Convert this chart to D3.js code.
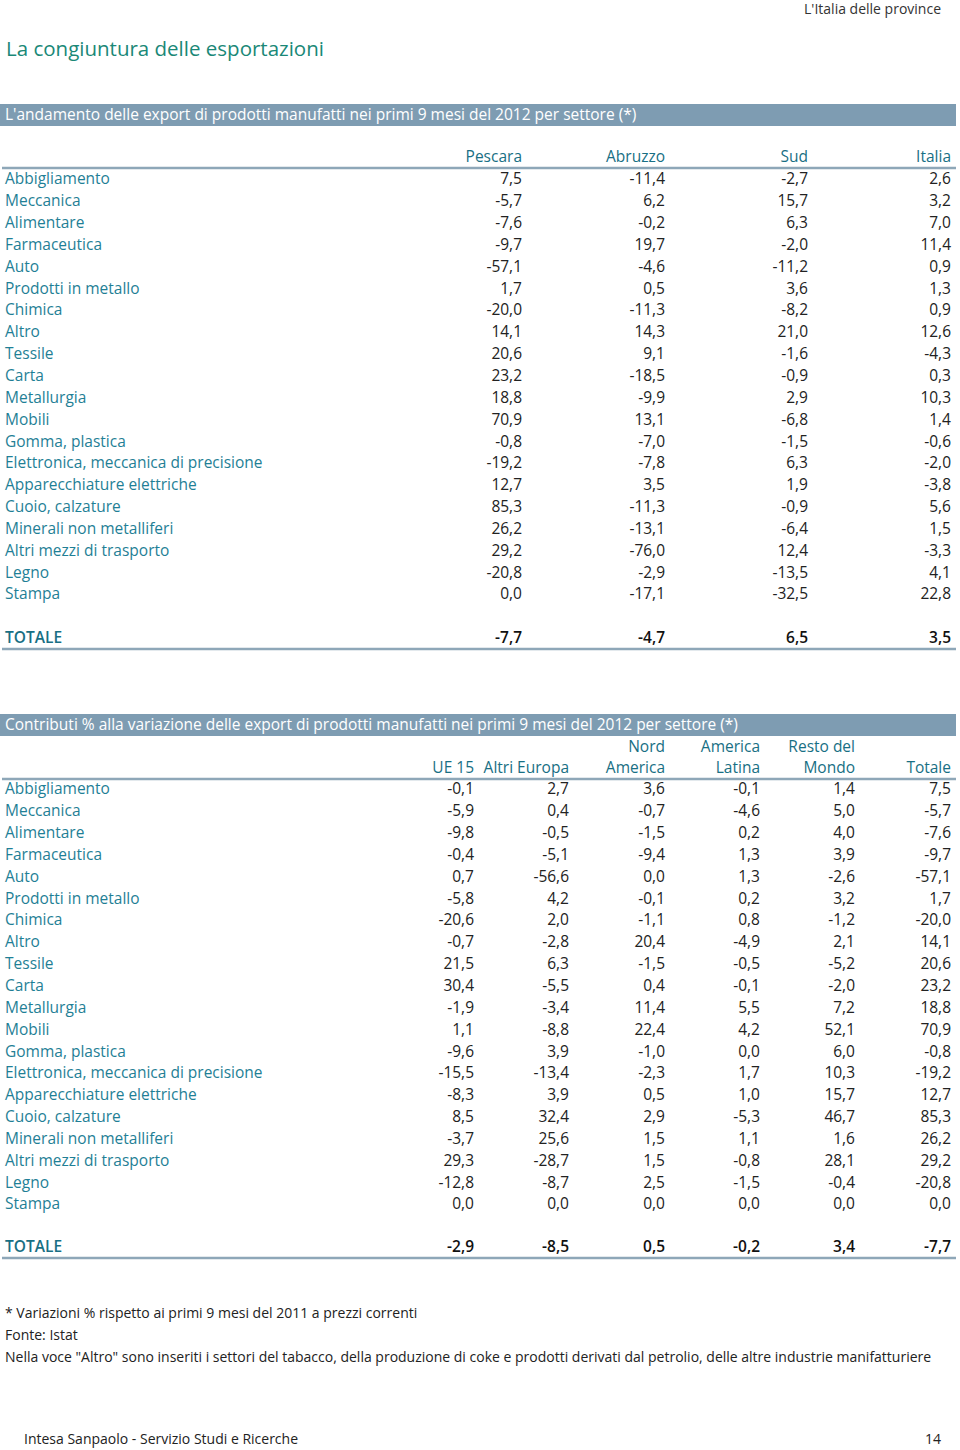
<!DOCTYPE html>
<html><head><meta charset="utf-8">
<script src="https://cdn.jsdelivr.net/npm/d3@7"></script>
<style>
body{margin:0;background:#fff;}
svg{display:block;font-family:"Open Sans",sans-serif;}
</style></head><body>
<svg id="c" width="960" height="1450"></svg>
<script>
const sectors = ["Abbigliamento","Meccanica","Alimentare","Farmaceutica","Auto","Prodotti in metallo","Chimica","Altro","Tessile","Carta","Metallurgia","Mobili","Gomma, plastica","Elettronica, meccanica di precisione","Apparecchiature elettriche","Cuoio, calzature","Minerali non metalliferi","Altri mezzi di trasporto","Legno","Stampa"];

// Table 1
const cols1 = ["Pescara","Abruzzo","Sud","Italia"];
const pescara = [7.5,-5.7,-7.6,-9.7,-57.1,1.7,-20.0,14.1,20.6,23.2,18.8,70.9,-0.8,-19.2,12.7,85.3,26.2,29.2,-20.8,0.0];
const abruzzo = [-11.4,6.2,-0.2,19.7,-4.6,0.5,-11.3,14.3,9.1,-18.5,-9.9,13.1,-7.0,-7.8,3.5,-11.3,-13.1,-76.0,-2.9,-17.1];
const sud = [-2.7,15.7,6.3,-2.0,-11.2,3.6,-8.2,21.0,-1.6,-0.9,2.9,-6.8,-1.5,6.3,1.9,-0.9,-6.4,12.4,-13.5,-32.5];
const italia = [2.6,3.2,7.0,11.4,0.9,1.3,0.9,12.6,-4.3,0.3,10.3,1.4,-0.6,-2.0,-3.8,5.6,1.5,-3.3,4.1,22.8];
const totale1 = [-7.7,-4.7,6.5,3.5];

// Table 2
const cols2Top = ["","","Nord","America","Resto del",""];
const cols2Bottom = ["UE 15","Altri Europa","America","Latina","Mondo","Totale"];
const ue15 = [-0.1,-5.9,-9.8,-0.4,0.7,-5.8,-20.6,-0.7,21.5,30.4,-1.9,1.1,-9.6,-15.5,-8.3,8.5,-3.7,29.3,-12.8,0.0];
const altriEuropa = [2.7,0.4,-0.5,-5.1,-56.6,4.2,2.0,-2.8,6.3,-5.5,-3.4,-8.8,3.9,-13.4,3.9,32.4,25.6,-28.7,-8.7,0.0];
const nordAmerica = [3.6,-0.7,-1.5,-9.4,0.0,-0.1,-1.1,20.4,-1.5,0.4,11.4,22.4,-1.0,-2.3,0.5,2.9,1.5,1.5,2.5,0.0];
const americaLatina = [-0.1,-4.6,0.2,1.3,1.3,0.2,0.8,-4.9,-0.5,-0.1,5.5,4.2,0.0,1.7,1.0,-5.3,1.1,-0.8,-1.5,0.0];
const restoMondo = [1.4,5.0,4.0,3.9,-2.6,3.2,-1.2,2.1,-5.2,-2.0,7.2,52.1,6.0,10.3,15.7,46.7,1.6,28.1,-0.4,0.0];
const totale2 = [7.5,-5.7,-7.6,-9.7,-57.1,1.7,-20.0,14.1,20.6,23.2,18.8,70.9,-0.8,-19.2,12.7,85.3,26.2,29.2,-20.8,0.0];
const totaleRow2 = [-2.9,-8.5,0.5,-0.2,3.4,-7.7];

const pageTitle = "La congiuntura delle esportazioni";
const runningHead = "L'Italia delle province";
const title1 = "L'andamento delle export di prodotti manufatti nei primi 9 mesi del 2012 per settore (*)";
const title2 = "Contributi % alla variazione delle export di prodotti manufatti nei primi 9 mesi del 2012 per settore (*)";
const notes = ["* Variazioni % rispetto ai primi 9 mesi del 2011 a prezzi correnti","Fonte: Istat","Nella voce \"Altro\" sono inseriti i settori del tabacco, della produzione di coke e prodotti derivati dal petrolio, delle altre industrie manifatturiere"];
const footerLeft = "Intesa Sanpaolo - Servizio Studi e Ricerche";
const footerRight = "14";

const fmt = v => d3.format(".1f")(v).replace(".", ",").replace("−","-");
const TEAL = "#1f7f96", HEAD = "#186f84", BAND = "#7e9cb2", LINE = "#8ea7b8", VAL = "#222";
const FS = 15.5;

const svg = d3.select("#c");

svg.append("text").attr("x",941).attr("y",9).attr("dy","0.35em").attr("text-anchor","end")
  .attr("font-size",14).attr("fill","#333").text(runningHead);
svg.append("text").attr("x",6).attr("y",56).attr("font-size",20.5).attr("fill","#1a8877").text(pageTitle);

function table(cfg){
  const g = svg.append("g");
  g.append("rect").attr("x",0).attr("y",cfg.bandY).attr("width",956).attr("height",22).attr("fill",BAND);
  g.append("text").attr("x",5).attr("y",cfg.bandY+11).attr("dy","0.35em")
    .attr("font-size",FS).attr("fill","#fff").text(cfg.title);
  const x = d3.scaleOrdinal().domain(d3.range(cfg.series.length)).range(cfg.colX);
  const y = d3.scalePoint().domain(d3.range(sectors.length)).range([cfg.row0, cfg.row0 + 21.84*(sectors.length-1)]);
  cfg.headerLines.forEach((hl, li) => {
    g.selectAll(null).data(hl).enter().append("text")
      .attr("x",(d,i)=>x(i)).attr("y",cfg.headerY[li]).attr("dy","0.35em")
      .attr("text-anchor","end").attr("font-size",FS).attr("fill",HEAD).text(d=>d);
  });
  g.append("line").attr("x1",2).attr("x2",956).attr("y1",cfg.lineY).attr("y2",cfg.lineY)
    .attr("stroke",LINE).attr("stroke-width",2.5);
  g.selectAll(null).data(sectors).enter().append("text")
    .attr("x",5).attr("y",(d,i)=>y(i)).attr("dy","0.35em")
    .attr("font-size",FS).attr("fill",TEAL).text(d=>d);
  cfg.series.forEach((s, ci) => {
    g.selectAll(null).data(s).enter().append("text")
      .attr("x",x(ci)).attr("y",(d,i)=>y(i)).attr("dy","0.35em")
      .attr("text-anchor","end").attr("font-size",FS).attr("fill",VAL).text(d=>fmt(d));
  });
  g.append("text").attr("x",5).attr("y",cfg.totY).attr("dy","0.35em")
    .attr("font-size",FS).attr("fill",HEAD).attr("font-weight",600).text("TOTALE");
  g.selectAll(null).data(cfg.totals).enter().append("text")
    .attr("x",(d,i)=>x(i)).attr("y",cfg.totY).attr("dy","0.35em")
    .attr("text-anchor","end").attr("font-size",FS).attr("font-weight",600).attr("fill","#111").text(d=>fmt(d));
  g.append("line").attr("x1",2).attr("x2",956).attr("y1",cfg.totY+11).attr("y2",cfg.totY+11)
    .attr("stroke",LINE).attr("stroke-width",2.5);
}

table({bandY:104, title:title1, series:[pescara,abruzzo,sud,italia], colX:[522,665,808,951],
  headerLines:[cols1], headerY:[157], lineY:168, row0:179, totY:638, totals:totale1});
table({bandY:714, title:title2, series:[ue15,altriEuropa,nordAmerica,americaLatina,restoMondo,totale2],
  colX:[474,569,665,760,855,951], headerLines:[cols2Top, cols2Bottom], headerY:[747,768], lineY:779,
  row0:789, totY:1247, totals:totaleRow2});

svg.selectAll(".note").data(notes).enter().append("text").attr("class","note")
  .attr("x",5).attr("y",(d,i)=>1313+i*22).attr("dy","0.35em").attr("font-size",14).attr("fill","#222").text(d=>d);
svg.append("text").attr("x",24).attr("y",1439).attr("dy","0.35em").attr("font-size",14).attr("fill","#222").text(footerLeft);
svg.append("text").attr("x",941).attr("y",1439).attr("dy","0.35em").attr("text-anchor","end").attr("font-size",14).attr("fill","#222").text(footerRight);
</script></body></html>
